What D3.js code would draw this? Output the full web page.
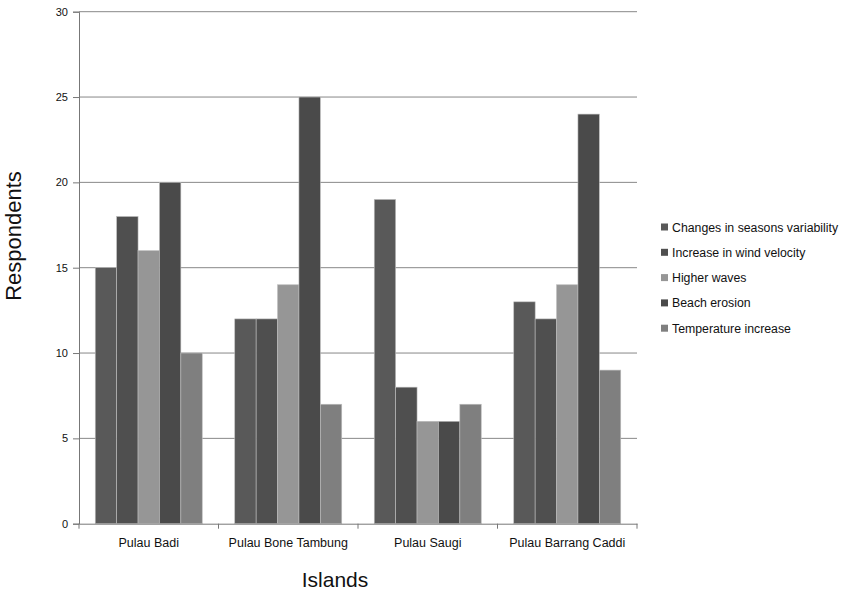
<!DOCTYPE html>
<html><head><meta charset="utf-8">
<script src="https://cdn.jsdelivr.net/npm/d3@7"></script>
<style>body{margin:0;background:#fff}</style>
</head><body><svg id="c" width="845" height="592"></svg>
<script>
const categories = ["Pulau Badi","Pulau Bone Tambung","Pulau Saugi","Pulau Barrang Caddi"];
const seriesNames = ["Changes in seasons variability","Increase in wind velocity","Higher waves","Beach erosion","Temperature increase"];
const seriesColors = ["#595959","#4f4f4f","#969696","#4a4a4a","#7f7f7f"];
const changesSeasons = [15,12,19,13];
const windVelocity = [18,12,8,12];
const higherWaves = [16,14,6,14];
const beachErosion = [20,25,6,24];
const temperatureIncrease = [10,7,7,9];
const yTicks = [0,5,10,15,20,25,30];
const seriesValues = [changesSeasons, windVelocity, higherWaves, beachErosion, temperatureIncrease];

const font = "Liberation Sans, Arial, sans-serif";
const svg = d3.select("#c");
const L=79, R=637, T=11.7, B=523.7;
const x = d3.scaleBand().domain(categories).range([L,R]);
const y = d3.scaleLinear().domain([0,30]).range([B,T]);
const groupW = 107;
const x1 = d3.scaleBand().domain(seriesNames).range([0,groupW]);

// gridlines
svg.append("g").selectAll("line").data(yTicks.filter(d=>d>0)).join("line")
  .attr("x1",L).attr("x2",R).attr("y1",d=>y(d)).attr("y2",d=>y(d))
  .attr("stroke","#888").attr("stroke-width",1);

// bars
const g = svg.append("g");
categories.forEach((c,ci)=>{
  const gx = x(c) + (x.bandwidth()-groupW)/2;
  seriesNames.forEach((s,si)=>{
    const v = seriesValues[si][ci];
    g.append("rect").attr("x",gx+x1(s)).attr("y",y(v))
      .attr("width",x1.bandwidth()).attr("height",y(0)-y(v))
      .attr("fill",seriesColors[si]).attr("stroke","#bdbdbd").attr("stroke-width",0.6);
  });
});

// y axis
const ya = svg.append("g").attr("transform",`translate(${L},0)`)
  .call(d3.axisLeft(y).tickValues(yTicks).tickSize(6).tickPadding(5));
ya.select(".domain").attr("stroke","#777");
ya.selectAll(".tick line").attr("stroke","#777");
ya.selectAll("text").attr("font-family",font).attr("font-size",11).attr("fill","#111");

// x axis
const xa = svg.append("g").attr("transform",`translate(0,${B})`)
  .call(d3.axisBottom(x).tickSize(0).tickPadding(14));
xa.select(".domain").attr("stroke","#777");
xa.selectAll("text").attr("font-family",font).attr("font-size",12.5).attr("fill","#111");
const bounds = categories.map(c=>x(c)).concat([R]);
svg.append("g").selectAll("line").data(bounds).join("line")
  .attr("x1",d=>d).attr("x2",d=>d).attr("y1",B).attr("y2",B+5).attr("stroke","#777");

// titles
svg.append("text").attr("x",335).attr("y",587).attr("text-anchor","middle")
  .attr("font-family",font).attr("font-size",21).attr("fill","#111").text("Islands");
svg.append("text").attr("transform","translate(21,236) rotate(-90)").attr("text-anchor","middle")
  .attr("font-family",font).attr("font-size",22).attr("fill","#111").text("Respondents");

// legend
const lg = svg.append("g");
seriesNames.forEach((s,i)=>{
  const ly = 227 + i*25.3;
  lg.append("rect").attr("x",661).attr("y",ly-3.5).attr("width",7).attr("height",7).attr("fill",seriesColors[i]);
  lg.append("text").attr("x",672).attr("y",ly+4.5).attr("font-family",font).attr("font-size",12.3)
    .attr("fill","#111").text(s);
});
</script></body></html>
